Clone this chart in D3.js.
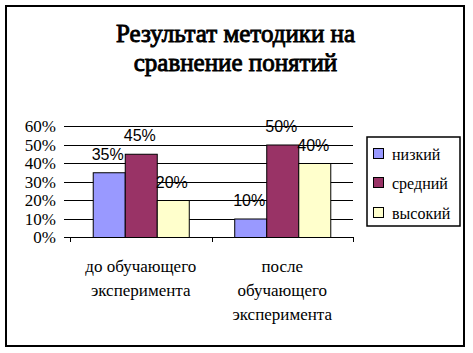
<!DOCTYPE html>
<html><head><meta charset="utf-8">
<script src="https://cdn.jsdelivr.net/npm/d3@7/dist/d3.min.js"></script>
</head><body>
<script>
const categories = [["до обучающего","эксперимента"],["после","обучающего","эксперимента"]];
const seriesNames = ["низкий","средний","высокий"];
const seriesColors = ["#9999FF","#993366","#FFFFCC"];
const lowValues = [35, 10];
const midValues = [45, 50];
const highValues = [20, 40];
const yTicks = [0,10,20,30,40,50,60];
const titleLines = ["Результат методики на","сравнение понятий"];

const seriesValues = [lowValues, midValues, highValues];
const W = 473, H = 353;
d3.select("body").style("margin","0px");
const svg = d3.select("body").append("svg").attr("width", W).attr("height", H).style("display","block");
const SERIF = d => "'Liberation Serif'";
const SANS = d => "'Liberation Sans'";

svg.append("rect").attr("x",6).attr("y",6).attr("width",458).attr("height",340)
  .attr("fill","#fff").attr("stroke","#000").attr("stroke-width",2);

const pLeft = 70, pRight = 353, pTop = 126, pBottom = 237;
const x0 = d3.scaleBand().domain(d3.range(categories.length)).range([pLeft,pRight]).paddingInner(0).paddingOuter(0);
const x1 = d3.scaleBand().domain(d3.range(seriesNames.length)).range([0,x0.bandwidth()]).paddingInner(0).paddingOuter(0.71);
const y = d3.scaleLinear().domain([0,60]).range([pBottom,pTop]);

// legend text first (regular weight)
svg.append("rect").attr("x",367).attr("y",137).attr("width",93).attr("height",89)
  .attr("fill","#fff").attr("stroke","#000").attr("stroke-width",1.5);
const ly = [148, 177, 207];
svg.selectAll("text.lg").data(seriesNames).join("text").attr("class","lg")
  .style("font-family",SERIF).attr("font-size",16).attr("x",392).attr("y",(d,i)=>ly[i]+12).text(d=>d);
svg.selectAll("rect.sw").data(seriesNames).join("rect").attr("class","sw")
  .attr("x",373.5).attr("y",(d,i)=>ly[i]+0.5).attr("width",10).attr("height",10)
  .attr("fill",(d,i)=>seriesColors[i]).attr("stroke","#000");

svg.selectAll("text.yl").data(yTicks).join("text").attr("class","yl")
  .style("font-family",SERIF).attr("font-size",17)
  .attr("x",56).attr("y",d=>y(d)+6).attr("text-anchor","end")
  .text(d=>d+"%");

const catLines = [];
categories.forEach((lines,i)=>lines.forEach((ln,j)=>catLines.push({i,j,ln})));
svg.selectAll("text.cat").data(catLines).join("text").attr("class","cat")
  .style("font-family",SERIF).attr("font-size",17).attr("text-anchor","middle")
  .attr("x",d=>x0(d.i)+x0.bandwidth()/2).attr("y",d=>272+d.j*24).text(d=>d.ln);

svg.selectAll("line.grid").data(yTicks).join("line").attr("class","grid")
  .attr("x1",pLeft-6).attr("x2",pRight).attr("y1",d=>Math.round(y(d))+0.5).attr("y2",d=>Math.round(y(d))+0.5)
  .attr("stroke","#000").attr("stroke-width",1);

const bounds = [pLeft, ...categories.map((c,i)=>x0(i)+x0.bandwidth())];
svg.selectAll("line.xt").data(bounds).join("line").attr("class","xt")
  .attr("x1",d=>Math.round(d)+0.5).attr("x2",d=>Math.round(d)+0.5).attr("y1",pBottom).attr("y2",pBottom+5)
  .attr("stroke","#000");

seriesValues.forEach((vals,s)=>{
  svg.selectAll("rect.s"+s).data(vals).join("rect").attr("class","s"+s)
    .attr("x",(d,i)=>x0(i)+x1(s)+0.5).attr("y",d=>y(d)+0.5)
    .attr("width",x1.bandwidth()).attr("height",d=>pBottom-y(d))
    .attr("fill",seriesColors[s]).attr("stroke","#000").attr("stroke-width",1);
  svg.selectAll("text.l"+s).data(vals).join("text").attr("class","l"+s)
    .style("font-family",SANS).attr("font-size",16)
    .attr("x",(d,i)=>x0(i)+x1(s)+x1.bandwidth()/2-1).attr("y",d=>y(d)-12.5)
    .attr("text-anchor","middle")
    .text(d=>d+"%");
});

// title last, bold simulated with a thin stroke
svg.selectAll("text.title").data(titleLines).join("text").attr("class","title")
  .style("font-family",SERIF).attr("font-size",25)
  .attr("x",235.5).attr("y",(d,i)=>42+i*29).attr("text-anchor","middle")
  .attr("fill","#000").attr("stroke","#000").attr("stroke-width",0.9).text(d=>d);
</script>
</body></html>
